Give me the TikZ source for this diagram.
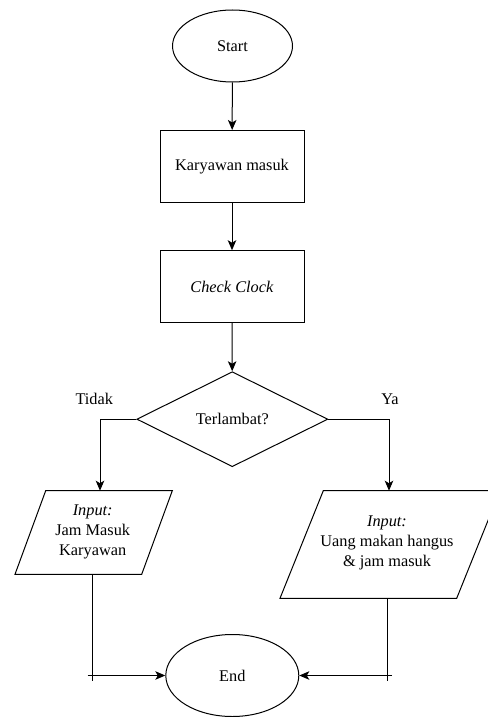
\documentclass[tikz,border=0pt]{standalone}
\usepackage{fontspec}
\setmainfont{Liberation Serif}
\usepackage{tikz}
\usetikzlibrary{
  positioning,
  calc,
  arrows.meta,
  shapes.geometric
}

\begin{document}
\begin{tikzpicture}[x=1pt,y=-1pt,line width=1pt,
  font=\rmfamily\fontsize{16.3}{20}\selectfont,
  arr/.style={-{Stealth[length=10pt,width=8.5pt,inset=2.5pt]}},
  terminal/.style={draw,ellipse,inner sep=0pt},
  proses/.style={draw,rectangle,minimum width=144pt,minimum height=72pt,inner sep=0pt},
  keputusan/.style={draw,diamond,aspect=2,minimum width=191pt,minimum height=95pt,inner sep=0pt},
  teks/.style={inner sep=0pt,align=center}]
  \useasboundingbox (0,0) rectangle (487,717);

  \node[terminal,minimum width=120pt,minimum height=72pt] (start) at (232.5,46) {Start};
  \node[proses] (masuk) at (232,166.5) {Karyawan masuk};
  \node[proses] (cek) at (232,286.7) {\textit{Check Clock}};
  \node[keputusan] (telat) at (232.3,419.2) {Terlambat?};

  % jajaran genjang input
  \coordinate (tidakKA) at (45.7,490.7);
  \coordinate (tidakKB) at (172.3,490.7);
  \coordinate (tidakKC) at (141.7,574.3);
  \coordinate (tidakKD) at (15,574.3);
  \draw (tidakKA) -- (tidakKB) -- (tidakKC) -- (tidakKD) -- cycle;
  \node[teks] (inTidak) at (92.7,532) {\textit{Input:}\\Jam Masuk\\Karyawan};

  \coordinate (yaKA) at (323.3,490.7);
  \coordinate (yaKB) at (500,490.7);
  \coordinate (yaKC) at (456.7,598.3);
  \coordinate (yaKD) at (280,598.3);
  \draw (yaKA) -- (yaKB) -- (yaKC) -- (yaKD) -- cycle;
  \node[teks] (inYa) at (387,543) {\textit{Input:}\\Uang makan hangus\\\& jam masuk};

  \node[terminal,minimum width=133pt,minimum height=82pt] (end) at (232.3,675.5) {End};

  \node (tidak) at (94.3,399) {Tidak};
  \node (ya) at (390,399) {Ya};

  \coordinate (kiri) at (100,419.2);
  \coordinate (kanan) at (389,419.2);
  \coordinate (bawahKiri) at (92.7,574.3);
  \coordinate (bawahKanan) at (387,598.3);
  \coordinate (sudutKiri) at (bawahKiri |- end.west);
  \coordinate (sudutKanan) at (bawahKanan |- end.east);

  \draw[arr] (start) -- (masuk);
  \draw[arr] (masuk) -- (cek);
  \draw[arr] (cek) -- (telat);
  \draw[arr] (telat.west) -- (kiri) -- (kiri |- tidakKA);
  \draw[arr] (telat.east) -- (kanan) -- (kanan |- yaKA);

  \draw (bawahKiri) -- ($(sudutKiri)+(0,5)$);
  \draw[arr] ($(sudutKiri)+(-5,0)$) -- (end.west);
  \draw (bawahKanan) -- ($(sudutKanan)+(0,5)$);
  \draw[arr] ($(sudutKanan)+(5,0)$) -- (end.east);
\end{tikzpicture}
\end{document}
